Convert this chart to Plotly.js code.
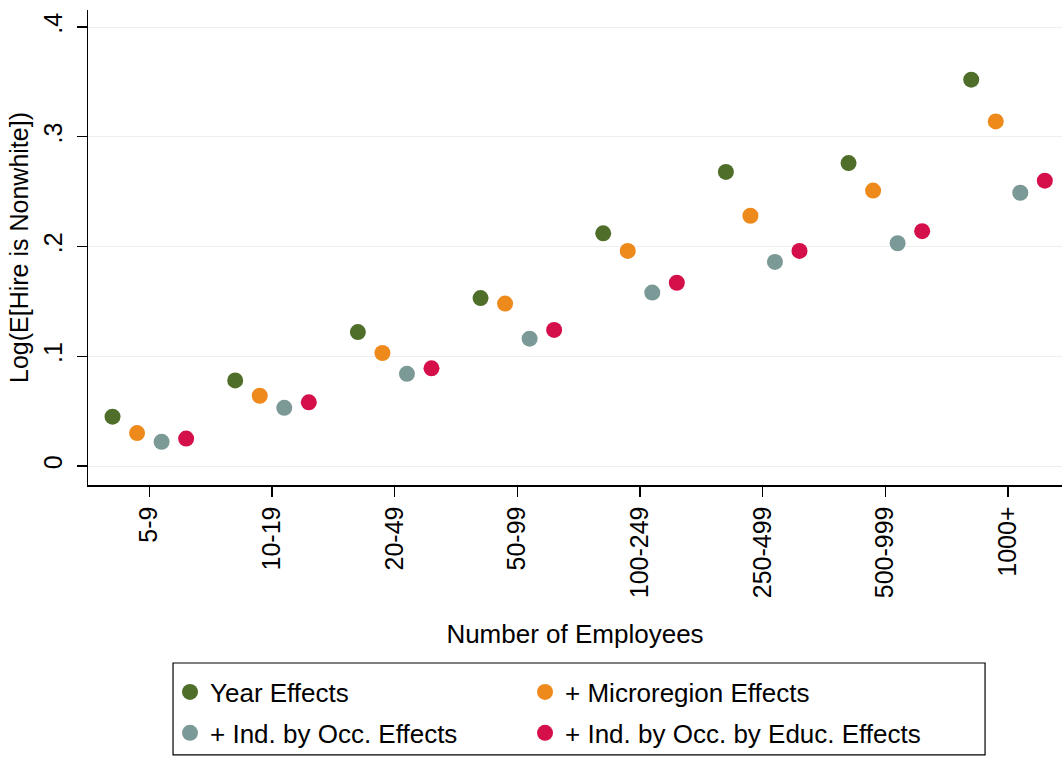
<!DOCTYPE html>
<html>
<head>
<meta charset="utf-8">
<script src="https://cdn.plot.ly/plotly-3.0.1.min.js"></script>
<style>html,body{margin:0;padding:0;background:#fff;}#chart{width:1062px;height:757px;}</style>
</head>
<body>
<div id="chart"></div>
<script>
const categories = ["5-9","10-19","20-49","50-99","100-249","250-499","500-999","1000+"];
const seriesNames = ["Year Effects","+ Microregion Effects","+ Ind. by Occ. Effects","+ Ind. by Occ. by Educ. Effects"];
const yearEffects = [0.045,0.078,0.122,0.153,0.212,0.268,0.276,0.352];
const microregionEffects = [0.030,0.064,0.103,0.148,0.196,0.228,0.251,0.314];
const indOccEffects = [0.022,0.053,0.084,0.116,0.158,0.186,0.203,0.249];
const indOccEducEffects = [0.025,0.058,0.089,0.124,0.167,0.196,0.214,0.260];
const yTickVals = [0,0.1,0.2,0.3,0.4];
const yTickText = ["0",".1",".2",".3",".4"];

const seriesData = [yearEffects, microregionEffects, indOccEffects, indOccEducEffects];
const colors = ["#4f6e29","#ee8a1c","#7b9996","#d40f4a"];
const offsets = [-0.3,-0.1,0.1,0.3];
const legendIds = ["legend","legend2","legend3","legend4"];

const traces = seriesData.map((vals,k)=>({
  type:"scatter", mode:"markers", name: seriesNames[k],
  legend: legendIds[k],
  x: categories.map((c,i)=> i + offsets[k]),
  y: vals,
  marker:{color:colors[k], size:16, line:{width:0}},
  hoverinfo:"y"
}));

const font = {family:"Liberation Sans, Arial, Helvetica, sans-serif", color:"#000", size:25};

const legendCommon = {
  orientation:"h",
  xanchor:"left",
  yanchor:"middle",
  borderwidth:0, bgcolor:"rgba(0,0,0,0)",
  font:{size:26},
  itemwidth:30
};
const col1 = 0.0842, col2 = 0.4487, row1 = -0.4358, row2 = -0.522;

const layout = {
  width:1062, height:757,
  margin:{l:88, r:0, t:10, b:272, pad:0},
  paper_bgcolor:"#fff", plot_bgcolor:"#fff",
  font: font,
  showlegend:true,
  xaxis:{
    range:[-0.5,7.44],
    tickvals: categories.map((c,i)=>i),
    ticktext: categories,
    tickangle:-90,
    ticks:"outside", ticklen:10, tickwidth:1.2, tickcolor:"#000",
    showline:true, linecolor:"#000", linewidth:1.5,
    showgrid:false, zeroline:false,
    tickfont:{size:25},
    title:{text:"Number of Employees", font:{size:26}, standoff:27}
  },
  yaxis:{
    range:[-0.0173,0.4155],
    tickvals:yTickVals, ticktext:yTickText,
    tickangle:-90,
    ticks:"outside", ticklen:10, tickwidth:1.2, tickcolor:"#000",
    ticklabelstandoff:5,
    showline:true, linecolor:"#000", linewidth:1.5,
    showgrid:true, gridcolor:"#eeeeee", gridwidth:1,
    zeroline:false,
    tickfont:{size:25},
    title:{text:"Log(E[Hire is Nonwhite])", font:{size:25}, standoff:3}
  },
  legend: Object.assign({}, legendCommon, {x:col1, y:row1}),
  legend2: Object.assign({}, legendCommon, {x:col2, y:row1}),
  legend3: Object.assign({}, legendCommon, {x:col1, y:row2}),
  legend4: Object.assign({}, legendCommon, {x:col2, y:row2}),
  shapes:[{
    type:"rect", xref:"paper", yref:"paper",
    x0:0.0873, x1:0.921, y0:-0.3747, y1:-0.568,
    line:{color:"#000", width:1.2}, fillcolor:"rgba(0,0,0,0)"
  }]
};

Plotly.newPlot("chart", traces, layout, {displayModeBar:false, staticPlot:true});
</script>
</body>
</html>
